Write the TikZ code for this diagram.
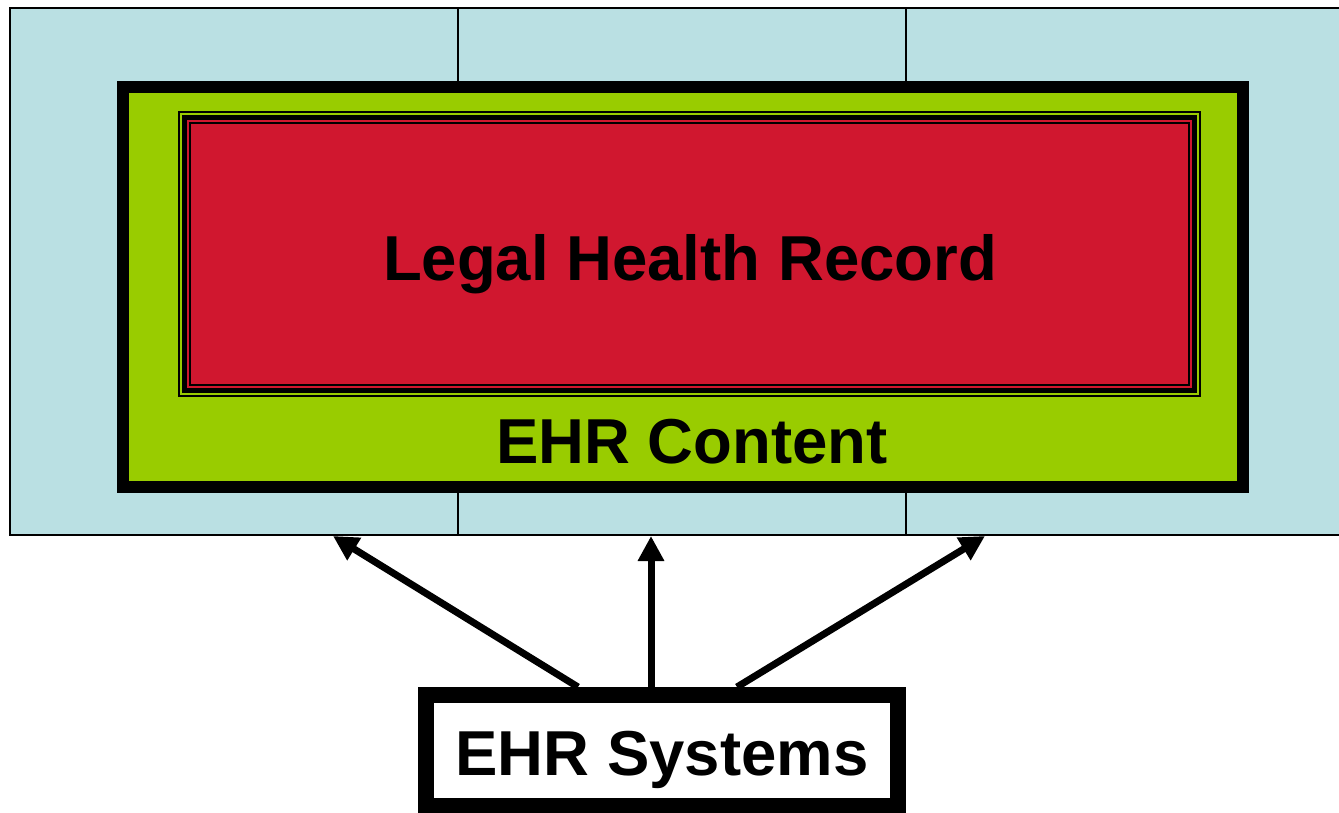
\documentclass[tikz,border=0pt]{standalone}
\usepackage{fontspec}
\setmainfont{Liberation Sans}
\usetikzlibrary{arrows.meta}
\definecolor{panelblue}{RGB}{186,224,227}
\definecolor{contentgreen}{RGB}{153,204,0}
\definecolor{recordred}{RGB}{208,23,47}
\tikzset{
  column/.style={draw=black, line width=1.5pt, fill=panelblue, inner sep=0pt,
    minimum width=448pt, minimum height=527pt},
  layer/.style={inner sep=0pt, outer sep=0pt},
  label/.style={font=\bfseries\fontsize{63.5}{70}\selectfont, anchor=base, inner sep=0pt},
  feed/.style={line width=7pt, -{Triangle[length=25pt,width=25pt]}},
}
\begin{document}
\begin{tikzpicture}[x=1pt,y=-1pt]
  \useasboundingbox (0,0) rectangle (1339,813);
  \clip (0,0) rectangle (1339,813);

  % three system columns behind the content box
  \node[column] (col1) at (234,271.5) {};
  \node[column] (col2) at (682,271.5) {};
  \node[column] (col3) at (1130,271.5) {};

  % EHR content box
  \node[draw=black, line width=12pt, fill=contentgreen, layer,
        minimum width=1120pt, minimum height=400pt] (content) at (682.5,287) {};

  % legal health record with its nested frame lines
  \fill[black] (178,111) rectangle (1201,397);
  \fill[contentgreen] (180,113) rectangle (1199,395);
  \fill[black] (182,115) rectangle (1197,393);
  \fill[recordred] (187,120) rectangle (1192,388);
  \fill[black] (189,122) rectangle (1190,386);
  \node[fill=recordred, layer, minimum width=997pt, minimum height=260pt]
    (record) at (689.5,254) {};

  \node[label] (recordtext) at (690,280) {Legal Health Record};
  \node[label] (contenttext) at (692,463) {EHR Content};

  % EHR systems box
  \node[draw=black, line width=16pt, fill=white, layer,
        minimum width=472pt, minimum height=111pt] (systems) at (662,750.5) {};
  \node[label] (systemstext) at (662,775) {EHR Systems};

  % arrows from the systems box up to the columns
  \coordinate (s1) at (578,687);
  \coordinate (s2) at (651,687);
  \coordinate (s3) at (737,687);
  \coordinate (t1) at (333,536);
  \coordinate (t2) at (651,536);
  \coordinate (t3) at (985,536);
  \draw[feed] (s1) -- (t1);
  \draw[feed] (s2) -- (t2);
  \draw[feed] (s3) -- (t3);
\end{tikzpicture}
\end{document}
